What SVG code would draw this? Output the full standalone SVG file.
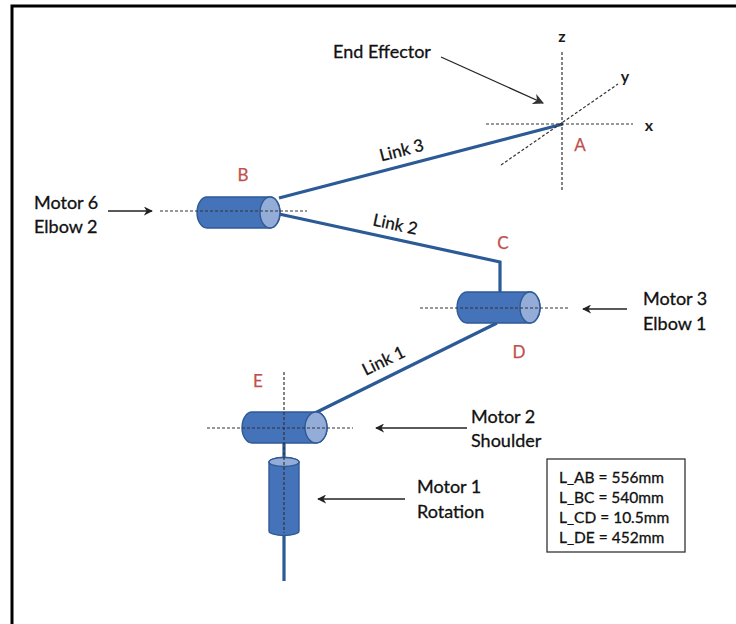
<svg xmlns="http://www.w3.org/2000/svg" width="736" height="624" viewBox="0 0 736 624">
  <defs>
    <style>
      .txt { font-family: Lato, "Open Sans", "Liberation Sans", sans-serif; fill: #111; stroke: #111; stroke-width: 0.3; }
      .lbl { font-size: 18px; }
      .pt { font-family: Lato, "Open Sans", "Liberation Sans", sans-serif; font-size: 17px; fill: #c0504d; stroke: #c0504d; stroke-width: 0.25; }
      .axis { font-family: Lato, "Open Sans", "Liberation Sans", sans-serif; font-size: 16px; font-weight: bold; fill: #1a1a1a; }
      .dash { stroke: #333; stroke-width: 1.2; stroke-dasharray: 3 2; fill: none; }
      .link { stroke: #2b5a97; stroke-width: 3.2; fill: none; stroke-linejoin: miter; }
      .body { fill: #4473b9; stroke: #2f5a96; stroke-width: 1.4; }
      .cap { fill: #93acd8; stroke: #2f5a96; stroke-width: 1.4; }
      .ptr { stroke: #222; stroke-width: 1.3; fill: none; }
    </style>
    <marker id="head" viewBox="0 0 10 10" refX="9" refY="5" markerWidth="9" markerHeight="9" markerUnits="userSpaceOnUse" orient="auto">
      <path d="M0,0 L10,5 L0,10 L3,5 Z" fill="#222"/>
    </marker>
    <marker id="headGray" viewBox="0 0 10 10" refX="9" refY="5" markerWidth="11" markerHeight="11" markerUnits="userSpaceOnUse" orient="auto">
      <path d="M0,0 L10,5 L0,10 L3,5 Z" fill="#333"/>
    </marker>
  </defs>

  <rect width="736" height="624" fill="#ffffff"/>
  <!-- frame -->
  <path d="M12,626 L12,6 L738,6" fill="none" stroke="#000" stroke-width="3"/>

  <!-- links and pointers -->
  <g id="connectors">
    <line class="link" x1="279" y1="198" x2="563" y2="124"/>
    <polyline class="link" points="279,214 500,262 500,292"/>
    <line class="link" x1="497" y1="323" x2="315" y2="413"/>
    <line class="link" x1="284" y1="443" x2="284" y2="458"/>
    <line class="link" x1="284" y1="535" x2="284" y2="581"/>

    <line class="ptr" stroke="#444" x1="441" y1="57" x2="543" y2="103" marker-end="url(#headGray)"/>
    <line class="ptr" x1="108" y1="211" x2="152" y2="211" marker-end="url(#head)"/>
    <line class="ptr" x1="627" y1="309" x2="583" y2="309" marker-end="url(#head)"/>
    <line class="ptr" x1="467" y1="428" x2="376" y2="428" marker-end="url(#head)"/>
    <line class="ptr" x1="405" y1="499" x2="318" y2="499" marker-end="url(#head)"/>

    <text class="txt" font-size="17" transform="translate(403,156) rotate(-14.4)" text-anchor="middle">Link 3</text>
    <text class="txt" font-size="17" transform="translate(394,230) rotate(12)" text-anchor="middle">Link 2</text>
    <text class="txt" font-size="17" transform="translate(386,366) rotate(-26)" text-anchor="middle">Link 1</text>
  </g>

  <!-- end effector frame -->
  <g id="endEffector">
    <line class="dash" x1="562" y1="52" x2="562" y2="190"/>
    <line class="dash" x1="486" y1="124" x2="633" y2="124"/>
    <line class="dash" x1="501" y1="165" x2="618" y2="84"/>
    <text class="axis" x="562" y="42" text-anchor="middle">z</text>
    <text class="axis" x="625" y="82" text-anchor="middle">y</text>
    <text class="axis" x="649" y="131" text-anchor="middle">x</text>
    <text class="pt" x="580" y="151" text-anchor="middle">A</text>
    <text class="txt lbl" x="382" y="58" text-anchor="middle">End Effector</text>
  </g>

  <!-- motor 6 / elbow 2 -->
  <g id="motorB">
    <path class="body" d="M207,197 L270,197 A10,15.5 0 0 1 270,228 L207,228 A10,15.5 0 0 1 207,197 Z"/>
    <ellipse class="cap" cx="270" cy="212.5" rx="10" ry="15.5"/>
    <line class="dash" x1="160" y1="211" x2="307" y2="211"/>
    <text class="pt" x="243" y="181" text-anchor="middle">B</text>
    <text class="txt lbl" x="34" y="209">Motor 6</text>
    <text class="txt lbl" x="34" y="233">Elbow 2</text>
  </g>

  <!-- motor 3 / elbow 1 -->
  <g id="motorD">
    <path class="body" d="M467,292 L530,292 A10,15.5 0 0 1 530,323 L467,323 A10,15.5 0 0 1 467,292 Z"/>
    <ellipse class="cap" cx="530" cy="307.5" rx="10" ry="15.5"/>
    <line class="dash" x1="420" y1="308" x2="570" y2="308"/>
    <text class="pt" x="503" y="249" text-anchor="middle">C</text>
    <text class="pt" x="519" y="358" text-anchor="middle">D</text>
    <text class="txt lbl" x="643" y="305">Motor 3</text>
    <text class="txt lbl" x="643" y="330">Elbow 1</text>
  </g>

  <!-- motor 2 / shoulder -->
  <g id="motorE">
    <path class="body" d="M252,412 L316,412 A11,15.5 0 0 1 316,443 L252,443 A10,15.5 0 0 1 252,412 Z"/>
    <ellipse class="cap" cx="316" cy="427.5" rx="11" ry="15.5"/>
    <text class="pt" x="258" y="387" text-anchor="middle">E</text>
    <text class="txt lbl" x="471" y="423">Motor 2</text>
    <text class="txt lbl" x="471" y="447">Shoulder</text>
  </g>

  <!-- motor 1 / rotation -->
  <g id="motorBase">
    <path class="body" d="M269,462 A15,4.5 0 0 1 299,462 L299,531 A15,4.5 0 0 1 269,531 Z"/>
    <ellipse class="cap" cx="284" cy="462" rx="15" ry="4.5"/>
    <text class="txt lbl" x="417" y="493">Motor 1</text>
    <text class="txt lbl" x="417" y="518">Rotation</text>
  </g>

  <!-- joint axes at E -->
  <g id="axesE">
    <line class="dash" x1="207" y1="428" x2="353" y2="428"/>
    <line class="dash" x1="284" y1="372" x2="284" y2="533"/>
  </g>

  <!-- link lengths -->
  <g id="lengths">
    <rect x="547" y="459" width="138" height="93" fill="#fff" stroke="#333" stroke-width="1.3"/>
    <text class="txt" font-size="15.5" x="559" y="483">L_AB = 556mm</text>
    <text class="txt" font-size="15.5" x="559" y="503">L_BC = 540mm</text>
    <text class="txt" font-size="15.5" x="559" y="523">L_CD = 10.5mm</text>
    <text class="txt" font-size="15.5" x="559" y="543">L_DE = 452mm</text>
  </g>
</svg>
